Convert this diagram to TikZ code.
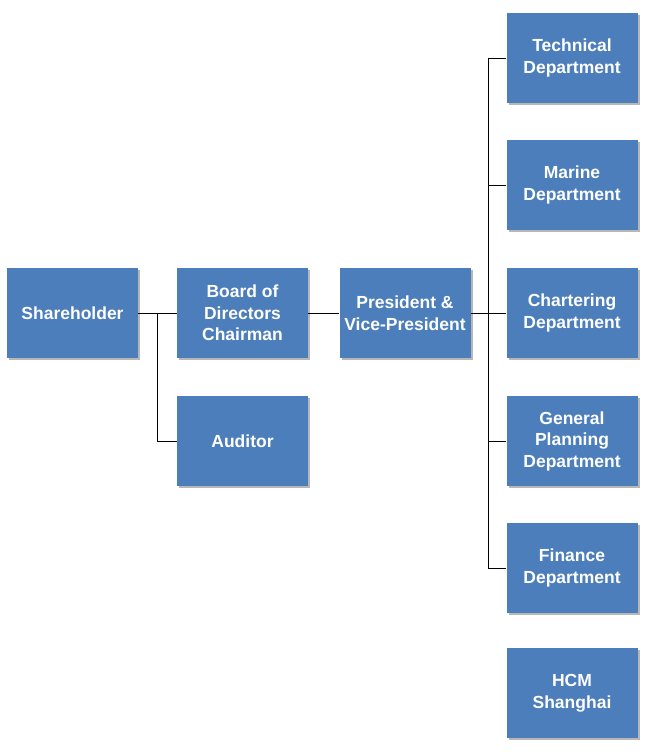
\documentclass[tikz,border=0pt]{standalone}
\usepackage{fontspec}
\setmainfont{Liberation Sans}
\usetikzlibrary{shadows}
\definecolor{unitblue}{RGB}{76,126,187}
\tikzset{unit/.style={fill=unitblue, minimum width=131pt, minimum height=90pt,
  text=white, align=center, font=\bfseries\fontsize{17.5}{21.5}\selectfont,
  drop shadow={shadow xshift=2pt, shadow yshift=-2pt, fill=black!40, opacity=0.7}}}

\begin{document}
\begin{tikzpicture}[x=1pt,y=-1pt,line width=0.8pt]
\useasboundingbox (0,0) rectangle (648,754);

\node[unit] (share) at (72.5,313) {Shareholder};
\node[unit] (board) at (242.5,313) {Board of\\Directors\\Chairman};
\node[unit] (audit) at (242.5,441) {Auditor};
\node[unit] (pres) at (405,313) {President \&\\Vice-President};

\node[unit] (d1) at (572,58) {Technical\\Department};
\node[unit] (d2) at (572,185) {Marine\\Department};
\node[unit] (d3) at (572,313) {Chartering\\Department};
\node[unit] (d4) at (572,441) {General\\Planning\\Department};
\node[unit] (d5) at (572,568) {Finance\\Department};
\node[unit] (hcm) at (572,693) {HCM\\Shanghai};

\coordinate (j1) at (157,313);
\coordinate (j2) at (488,313);

\draw (share) -- (board);
\draw (j1) |- (audit.west);
\draw (board) -- (pres);
\draw (pres) -- (j2);
\draw (j2 |- d1.west) -- (j2 |- d5.west);
\foreach \d in {d1,d2,d3,d4,d5}
  \draw (j2 |- \d.west) -- (\d.west);

\end{tikzpicture}
\end{document}
